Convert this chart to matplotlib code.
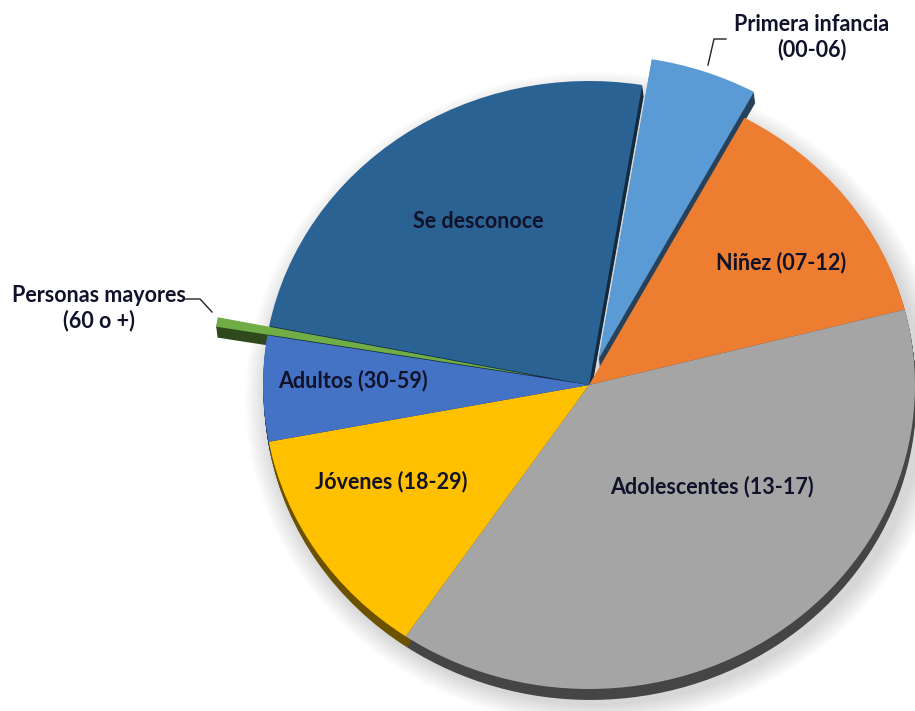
import numpy as np
import matplotlib
matplotlib.use("Agg")
import matplotlib.pyplot as plt
from matplotlib.colors import to_rgb
from matplotlib.patches import Ellipse

# datos (porcentaje aproximado por grupo de edad)
grupos = ["Primera infancia\n(00-06)", "Niñez (07-12)", "Adolescentes (13-17)",
          "Jóvenes (18-29)", "Adultos (30-59)", "Personas mayores\n(60 o +)",
          "Se desconoce"]
valores = [5.3, 13.1, 38.5, 12.5, 5.6, 0.5, 24.5]
colores = ["#5B9BD5", "#ED7D31", "#A5A5A5", "#FFC000", "#4472C4", "#70AD47", "#2B6294"]
separar = [0.09, 0, 0, 0, 0, 0.16, 0]

# posiciones de etiquetas en pixeles
pos_etiquetas = [(812, 37), (781, 263), (712, 487), (391, 482), (353, 381), (99, 308), (478, 222)]

W, H = 915, 711
fig = plt.figure(figsize=(W / 100, H / 100), dpi=100)

def fx(x):
    return x / W

def fy(y):
    return 1 - y / H

# elipse del pastel
cx, cy = 589, 385
rx, ry = 326, 304
ax = fig.add_axes([fx(cx - rx), fy(cy + ry), 2 * rx / W, 2 * ry / H])

# sombra suave
for k in range(8):
    ax.add_patch(Ellipse((0.02, -0.045), 2.02 + k * 0.018, 2.02 + k * 0.018,
                         color="black", alpha=0.018, lw=0, zorder=0))

# borde 3D (lado oscuro)
oscuros = [tuple(np.array(to_rgb(c)) * 0.42) for c in colores]
for off in np.linspace(0.004, 0.036, 9):
    w, _ = ax.pie(valores, colors=oscuros, explode=separar, startangle=80.6,
                  counterclock=False, center=(off * 0.12, -off),
                  wedgeprops=dict(linewidth=0))
    for p in w:
        p.set_zorder(1)

# cara superior
w, _ = ax.pie(valores, colors=colores, explode=separar, startangle=80.6,
              counterclock=False, wedgeprops=dict(linewidth=0))
for p in w:
    p.set_zorder(2)

ax.set_aspect("auto")
ax.set_xlim(-1, 1)
ax.set_ylim(-1, 1)
ax.axis("off")
for p in ax.patches:
    p.set_clip_on(False)

for txt, (x, y) in zip(grupos, pos_etiquetas):
    fig.text(fx(x), fy(y), txt, ha="center", va="center", fontsize=15.5,
             fontweight="bold", family="Lato", color="#10122a", linespacing=1.2)

# lineas guia
fig.add_artist(plt.Line2D([fx(708), fx(714), fx(726)], [fy(65), fy(39), fy(39)],
                          color="#222222", lw=1))
fig.add_artist(plt.Line2D([fx(185), fx(200), fx(212)], [fy(299), fy(299), fy(312)],
                          color="#222222", lw=1))

fig.savefig("out.png", dpi=100)
